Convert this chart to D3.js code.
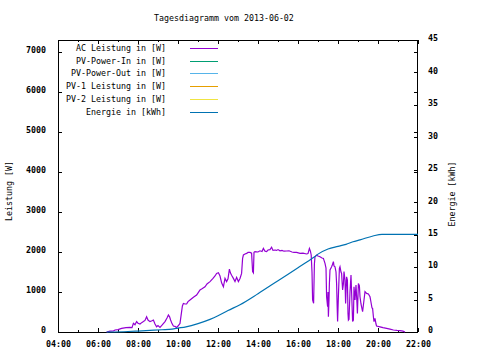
<!DOCTYPE html>
<html><head><meta charset="utf-8">
<script src="https://cdn.jsdelivr.net/npm/d3@7"></script>
<style>
body{margin:0;background:#fff}
svg{display:block}
text{font-family:"DejaVu Sans Mono","Liberation Mono",monospace;font-size:8.3px;fill:#000}
.tick text{font-weight:bold}
.tick line{shape-rendering:crispEdges}
</style>
</head><body>
<svg id="c" width="480" height="360"></svg>
<script>
const title = "Tagesdiagramm vom 2013-06-02";
const yLabel = "Leistung [W]";
const y2Label = "Energie [kWh]";
const seriesNames = ["AC Leistung in [W]","PV-Power-In in [W]","PV-Power-Out in [W]","PV-1 Leistung in [W]","PV-2 Leistung in [W]","Energie in [kWh]"];
const seriesColors = ["#9400d3","#009e73","#56b4e9","#e69f00","#f0e442","#0072b2"];

// AC power: time in decimal hours, value in W
const acTimes = [6.43,6.6,6.77,6.85,7.0,7.18,7.4,7.6,7.7,7.77,7.85,7.93,8.0,8.1,8.2,8.27,8.35,8.43,8.5,8.6,8.7,8.77,8.85,8.93,9.0,9.1,9.2,9.35,9.45,9.52,9.58,9.63,9.7,9.77,9.85,9.93,10.0,10.1,10.18,10.22,10.27,10.35,10.43,10.5,10.6,10.77,10.93,11.02,11.1,11.2,11.35,11.45,11.6,11.75,11.85,11.93,12.02,12.1,12.18,12.27,12.35,12.43,12.5,12.57,12.62,12.68,12.77,12.85,12.93,13.02,13.1,13.18,13.23,13.27,13.35,13.43,13.5,13.6,13.68,13.73,13.77,13.8,13.85,14.0,14.1,14.2,14.27,14.35,14.43,14.5,14.6,14.68,14.75,14.85,14.93,15.0,15.1,15.2,15.3,15.43,15.55,15.7,15.8,15.93,16.1,16.25,16.43,16.5,16.57,16.62,16.66,16.7,16.73,16.78,16.82,16.85,16.93,17.0,17.1,17.2,17.27,17.35,17.4,17.43,17.48,17.5,17.52,17.55,17.57,17.6,17.65,17.68,17.72,17.77,17.8,17.85,17.9,17.93,17.96,17.98,18.02,18.07,18.1,18.15,18.18,18.23,18.27,18.3,18.35,18.38,18.43,18.47,18.5,18.52,18.55,18.6,18.65,18.7,18.73,18.77,18.8,18.85,18.9,18.95,18.97,19.02,19.07,19.1,19.15,19.18,19.23,19.3,19.35,19.43,19.52,19.6,19.63,19.7,19.73,19.77,19.8,19.85,19.9,19.93,20.1,20.25,20.43,20.6,20.77,20.95,21.1,21.25,21.35];
const acWatts = [0,20,25,50,60,90,110,115,110,215,180,260,220,200,240,260,290,380,300,260,280,300,200,130,160,115,170,260,350,425,380,300,210,150,140,115,150,215,510,650,715,700,700,760,800,870,925,990,1050,1080,1130,1200,1260,1340,1400,1465,1480,1400,1230,1130,1340,1260,1330,1570,1480,1420,1340,1260,1365,1260,1340,1465,1840,1925,1950,1965,1990,1990,1970,1510,1480,1990,2010,2000,2030,2010,2090,2020,2010,2050,2060,2120,2040,2050,2040,2060,2030,2040,2020,2025,2030,2000,1990,1990,1965,1970,1950,1960,2090,2020,1925,1500,800,720,1700,1880,1920,1900,1880,1850,1840,1715,1600,880,630,1000,380,800,1215,1550,1600,1630,1680,1760,1650,1630,1500,1215,600,260,900,1590,1630,1500,1465,1050,1200,1510,1300,715,1380,1300,465,300,320,1000,1425,715,260,300,1130,800,1175,700,465,1215,1150,880,700,630,510,800,1010,965,950,880,800,600,590,380,260,340,200,150,130,110,90,70,50,40,35,20,0];

// Energy: time in decimal hours, value in kWh
const energyTimes = [6.43,7.5,8.0,8.6,9.2,9.7,10.0,10.4,11.0,11.6,12.0,12.5,13.1,14.0,15.0,16.0,16.5,16.83,17.0,17.5,18.0,18.4,18.75,19.1,19.75,20.2,22.0];
const energyKWh = [0,0.08,0.15,0.25,0.35,0.45,0.6,0.8,1.3,1.95,2.5,3.3,4.2,5.9,7.9,9.9,10.9,11.6,12.0,12.8,13.2,13.5,13.9,14.2,14.8,15.05,15.05];

const xMajor = [4,6,8,10,12,14,16,18,20,22];
const xMinor = [5,7,9,11,13,15,17,19,21];
const xTickLabels = ["04:00","06:00","08:00","10:00","12:00","14:00","16:00","18:00","20:00","22:00"];
const yTicks = [0,1000,2000,3000,4000,5000,6000,7000];
const y2Ticks = [0,5,10,15,20,25,30,35,40,45];

const L=58, R=418, T=40, B=332;
const svg = d3.select("#c");
const x = d3.scaleLinear().domain([4,22]).range([L,R]);
const y = d3.scaleLinear().domain([0,7300]).range([B,T]);
const y2 = d3.scaleLinear().domain([0,45]).range([B,T]);

svg.append("text").attr("x",154).attr("y",21).text(title);

function clean(g){ g.select(".domain").remove(); g.selectAll("line").attr("stroke","#000"); g.selectAll("text").attr("fill","#000").style("font-family",null).style("font-size",null); }

svg.append("g").attr("transform",`translate(${L},0)`)
  .call(d3.axisLeft(y).tickValues(yTicks).tickSize(-4).tickPadding(12).tickFormat(d3.format("d")))
  .call(clean).call(g=>g.selectAll("text").attr("dy","0.08em"));
svg.append("g").attr("transform",`translate(${R},0)`)
  .call(d3.axisRight(y).tickValues(yTicks).tickSize(-4).tickFormat(""))
  .call(clean);
svg.append("g").attr("transform",`translate(${R},0)`)
  .call(d3.axisRight(y2).tickValues(y2Ticks).tickSize(-4).tickPadding(10).tickFormat(d3.format("d")))
  .call(clean).call(g=>g.selectAll("text").attr("dy","0.1em"));
svg.append("g").attr("transform",`translate(0,${B})`)
  .call(d3.axisBottom(x).tickValues(xMajor).tickSize(-4).tickPadding(9).tickFormat((d,i)=>xTickLabels[i]))
  .call(clean);
svg.append("g").attr("transform",`translate(0,${B})`)
  .call(d3.axisBottom(x).tickValues(xMinor).tickSize(-2).tickFormat(""))
  .call(clean);
svg.append("g").attr("transform",`translate(0,${T})`)
  .call(d3.axisTop(x).tickValues(xMajor).tickSize(-4).tickFormat(""))
  .call(clean);
svg.append("g").attr("transform",`translate(0,${T})`)
  .call(d3.axisTop(x).tickValues(xMinor).tickSize(-2).tickFormat(""))
  .call(clean);

svg.append("rect").attr("x",L+0.5).attr("y",T+0.5).attr("width",R-L-1).attr("height",B-T)
  .attr("fill","none").attr("stroke","#000").attr("stroke-width",1);

svg.append("text").attr("transform",`translate(12,191) rotate(-90)`).attr("text-anchor","middle").text(yLabel);
svg.append("text").attr("transform",`translate(455,194) rotate(-90)`).attr("text-anchor","middle").text(y2Label);

const acData = acTimes.map((t,i)=>[t,acWatts[i]]);
const enData = energyTimes.map((t,i)=>[t,energyKWh[i]]);

svg.append("path").datum(acData).attr("fill","none").attr("stroke",seriesColors[0]).attr("stroke-width",1.2)
  .attr("d",d3.line().x(d=>x(d[0])).y(d=>y(d[1])));
svg.append("path").datum(enData).attr("fill","none").attr("stroke",seriesColors[5]).attr("stroke-width",1.2)
  .attr("d",d3.line().x(d=>x(d[0])).y(d=>y2(d[1])).curve(d3.curveMonotoneX));

const legY = [48,61,73,86,99,112];
const leg = svg.append("g");
seriesNames.forEach((n,i)=>{
  leg.append("text").attr("x",166).attr("y",legY[i]).attr("dy","0.35em").attr("text-anchor","end").text(n);
  leg.append("line").attr("x1",190).attr("x2",218).attr("y1",legY[i]+0.5).attr("y2",legY[i]+0.5)
    .attr("stroke",seriesColors[i]).attr("stroke-width",1).style("shape-rendering","crispEdges");
});
</script>
</body></html>
